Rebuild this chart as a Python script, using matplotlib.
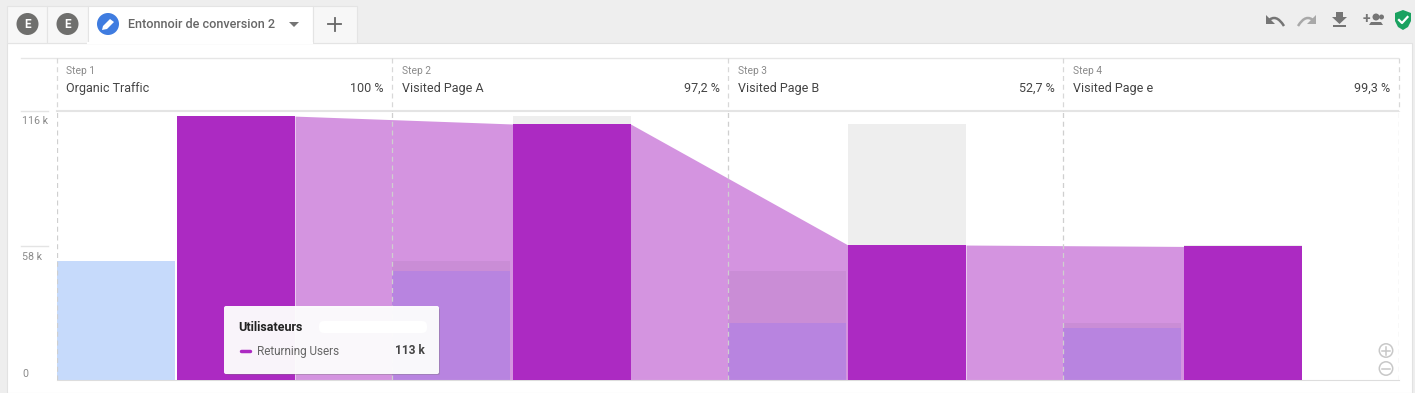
import matplotlib
matplotlib.use('Agg')
import matplotlib.pyplot as plt
from matplotlib.patches import Rectangle, Circle, Polygon, FancyBboxPatch, PathPatch
from matplotlib.path import Path

plt.rcParams['font.family'] = ['Roboto', 'DejaVu Sans']

step_ids = ['Step 1', 'Step 2', 'Step 3', 'Step 4']
step_names = ['Organic Traffic', 'Visited Page A', 'Visited Page B', 'Visited Page e']
step_pct = ['100 %', '97,2 %', '52,7 %', '99,3 %']
returning = [113.8, 110.4, 58.2, 57.6]
returning_prev = [113.8, 113.8, 110.4, 58.2]
blue = [51.3, 47.0, 24.6, 22.4]
blue_prev = [51.3, 51.3, 47.0, 24.6]
ytick_vals = [116, 58, 0]
ytick_labels = ['116 k', '58 k', '0']

W, H = 1415, 393
STEP_PX = 335.5
LEFT_PX = 56.5
fig = plt.figure(figsize=(W / 100, H / 100), dpi=100, facecolor='#eeeeee')

# page chrome, in pixel coordinates
bg = fig.add_axes([0, 0, 1, 1])
bg.set_xlim(0, W)
bg.set_ylim(H, 0)
bg.axis('off')

bg.add_patch(Rectangle((6.5, 43), 1405, 350, fc='white', ec='#e2e2e2', lw=0.8))
for x0, x1, c in [(6.5, 46.5, '#f7f7f7'), (46.5, 87.5, '#f7f7f7'), (87.5, 312.5, 'white'), (312.5, 356.5, '#f7f7f7')]:
    bg.add_patch(Rectangle((x0, 6), x1 - x0, 37, fc=c, ec='#e4e4e4', lw=0.8))
bg.plot([88, 312], [43, 43], color='white', lw=1.5)
for cx in [27.5, 67.5]:
    bg.add_patch(Circle((cx, 24), 11, fc='#6f6f6d', ec='none'))
    bg.text(cx, 24.5, 'E', color='white', fontsize=8.5, fontweight='bold', ha='center', va='center')
bg.add_patch(Circle((108, 24), 11, fc='#3f7ce0', ec='none'))
bg.add_patch(Polygon([[102, 30], [103, 26], [110, 19], [114, 22], [107, 29]], fc='white', ec='none'))
bg.text(128, 24, 'Entonnoir de conversion 2', color='#666666', fontsize=9.1, fontweight='medium', va='center')
bg.add_patch(Polygon([[289, 22], [299, 22], [294, 27]], fc='#757575', ec='none'))
bg.plot([328, 341], [24, 24], color='#666666', lw=1.3)
bg.plot([334.5, 334.5], [17.5, 30.5], color='#666666', lw=1.3)


def arrow_icon(mirror, color):
    fx = (lambda x: 2582 - x) if mirror else (lambda x: x)
    curve = Path([(fx(1284), 26), (fx(1276), 13), (fx(1268), 21)], [Path.MOVETO, Path.CURVE3, Path.CURVE3])
    bg.add_patch(PathPatch(curve, fc='none', ec=color, lw=1.8))
    bg.add_patch(Polygon([[fx(1266), 15], [fx(1266), 24], [fx(1275), 24]], fc=color, ec='none'))


# toolbar icons
arrow_icon(False, '#757575')
arrow_icon(True, '#a8a8a8')
bg.add_patch(Polygon([[1336, 12], [1343, 12], [1343, 17], [1347, 17], [1339.5, 24], [1332, 17], [1336, 17]],
                     fc='#757575', ec='none'))
bg.add_patch(Rectangle((1333, 25), 13, 2, fc='#757575', ec='none'))
bg.text(1366, 19.5, '+', color='#757575', fontsize=10, fontweight='bold', ha='center', va='center')
bg.add_patch(Circle((1376, 17), 3.5, fc='#757575', ec='none'))
bg.add_patch(Circle((1381.5, 17), 2.5, fc='#757575', ec='none'))
bg.add_patch(Polygon([[1369, 25], [1371, 22], [1381, 22], [1383, 25]], fc='#757575', ec='none'))
bg.add_patch(Polygon([[1403, 10], [1411, 13], [1411, 21], [1408, 27], [1403, 30], [1398, 27], [1395, 21], [1395, 13]],
                     fc='#1aa260', ec='none'))
bg.plot([1399, 1402, 1407.5], [20, 23, 17], color='white', lw=1.6)

# header lines and y axis rules
bg.plot([21, 1398], [57.5, 57.5], color='#e6e6e6', lw=1)
bg.plot([57, 1398], [111, 111], color='#e4e4e4', lw=1.5)
bg.plot([21, 48], [111, 111], color='#e4e4e4', lw=1)
bg.plot([21, 48], [245.5, 245.5], color='#e4e4e4', lw=1)

# funnel, data coordinates
ax = fig.add_axes([LEFT_PX / W, 1 - 380 / H, 4 * STEP_PX / W, (380 - 111) / H])
ax.set_xlim(0, 4)
ax.set_ylim(0, 116)
ax.patch.set_alpha(0)
for s in ['top', 'left', 'right']:
    ax.spines[s].set_visible(False)
ax.spines['bottom'].set_color('#dddddd')
ax.set_xticks([])
ax.set_yticks([])

bar_w = 118 / STEP_PX
gap = 2.5 / STEP_PX
x_step = list(range(len(step_names)))
x_blue = x_step
x_purple = [x + bar_w + gap for x in x_step]

# connectors between the purple bars
for i in x_step[:-1]:
    ax.fill_between([x_purple[i] + bar_w, x_purple[i + 1]], [returning[i], returning[i + 1]],
                    color='#d494e0', lw=0, zorder=1)

# grey = users lost since the previous step
ax.bar(x_purple[1:], returning_prev[1:], bar_w, align='edge', color='#eeeeee', zorder=2)
ax.bar(x_purple, returning, bar_w, align='edge', color='#ac2ac2', zorder=3)

ax.bar(x_blue[1:], blue_prev[1:], bar_w, align='edge', color='#ca8dd6', zorder=2)
ax.bar(x_blue[1:], blue[1:], bar_w, align='edge', color='#b884e0', zorder=2)
ax.bar(x_blue[0], blue[0], bar_w, align='edge', color='#c6dafb', zorder=2)

for x in range(5):
    ax.axvline(x, color='#cfcfcf', lw=0.9, ls=(0, (4, 3)), zorder=4)
    bg.plot([LEFT_PX + x * STEP_PX] * 2, [58, 111], color='#d8d8d8', lw=0.9, ls=(0, (4, 3)))

for i, name in enumerate(step_names):
    x0 = LEFT_PX + i * STEP_PX
    bg.text(x0 + 10, 71, step_ids[i], color='#8a8a8a', fontsize=7.4, va='center')
    bg.text(x0 + 10, 88.5, name, color='#444444', fontsize=9, va='center')
    bg.text(x0 + 327.5, 88.5, step_pct[i], color='#444444', fontsize=9, va='center', ha='right')

for v, lab, dy in zip(ytick_vals, ytick_labels, [10, 11, -6]):
    bg.text(22, 380 - v * 269 / 116 + dy, lab, color='#8a8a8a', fontsize=7.7, va='center', ha='left')

# zoom buttons
for cy in [350.5, 368.5]:
    bg.add_patch(Circle((1386, cy), 6.7, fc='white', ec='#c8c8c8', lw=1.1, zorder=5))
    bg.plot([1382, 1390], [cy, cy], color='#c8c8c8', lw=1.1, zorder=5)
bg.plot([1386, 1386], [346.5, 354.5], color='#c8c8c8', lw=1.1, zorder=5)

# tooltip on top of everything
top = fig.add_axes([0, 0, 1, 1])
top.set_xlim(0, W)
top.set_ylim(H, 0)
top.axis('off')
top.add_patch(FancyBboxPatch((226, 308), 214, 67, boxstyle='round,pad=0,rounding_size=2', fc='#777777',
                             ec='none', alpha=0.35))
top.add_patch(FancyBboxPatch((224, 306), 215, 68, boxstyle='round,pad=0,rounding_size=2', fc='white',
                             ec='none', alpha=0.95))
top.text(238.5, 327.5, 'Utilisateurs', color='#222222', fontsize=9, fontweight='bold', va='center')
top.add_patch(FancyBboxPatch((319, 321), 108, 12, boxstyle='round,pad=0,rounding_size=5', fc='white', ec='none'))
top.plot([240.5, 250], [351, 351], color='#ac2ac2', lw=2.5, solid_capstyle='round')
top.text(257, 351, 'Returning Users', color='#666666', fontsize=8.5, va='center')
top.text(425, 351, '113 k', color='#444444', fontsize=8.6, fontweight='bold', va='center', ha='right')

fig.savefig('out.png', dpi=100, facecolor=fig.get_facecolor())
